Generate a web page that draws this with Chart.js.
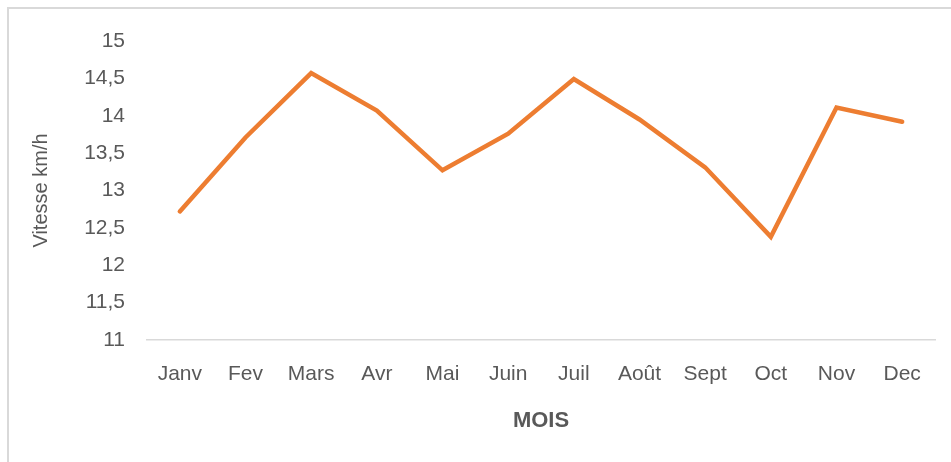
<!DOCTYPE html>
<html>
<head>
<meta charset="utf-8">
<script src="https://cdn.jsdelivr.net/npm/chart.js@4/dist/chart.umd.min.js"></script>
<style>
  html, body { margin: 0; padding: 0; background: #ffffff; }
  #wrap { position: relative; width: 951px; height: 462px; overflow: hidden; background: #ffffff; }
  #frame { position: absolute; left: 7px; top: 7px; width: 960px; height: 470px;
           border-top: 2px solid #d9d9d9; border-left: 2px solid #d9d9d9; box-sizing: border-box; }
  canvas { position: absolute; left: 0; top: 0; }
</style>
</head>
<body>
<div id="wrap">
  <div id="frame"></div>
  <canvas id="c" width="951" height="462"></canvas>
</div>
<script>
const categories = ['Janv', 'Fev', 'Mars', 'Avr', 'Mai', 'Juin', 'Juil', 'Août', 'Sept', 'Oct', 'Nov', 'Dec'];
const vitesse = [12.72, 13.71, 14.57, 14.07, 13.27, 13.76, 14.49, 13.95, 13.31, 12.38, 14.11, 13.92];
const yTickValues = [11, 11.5, 12, 12.5, 13, 13.5, 14, 14.5, 15];
const yTickLabels = ['11', '11,5', '12', '12,5', '13', '13,5', '14', '14,5', '15'];
const xTitle = 'MOIS';
const yTitle = 'Vitesse km/h';

const FONT = "'Liberation Sans', Arial, sans-serif";
const TXT = '#595959';

new Chart(document.getElementById('c'), {
  type: 'line',
  data: {
    labels: categories,
    datasets: [{
      data: vitesse,
      borderColor: '#ED7D31',
      backgroundColor: '#ED7D31',
      borderWidth: 4.5,
      borderCapStyle: 'round',
      borderJoinStyle: 'miter',
      pointRadius: 0,
      tension: 0,
      fill: false
    }]
  },
  options: {
    responsive: false,
    animation: false,
    devicePixelRatio: 1,
    layout: { padding: { left: 0, right: 16, top: 41, bottom: 0 } },
    plugins: { legend: { display: false }, tooltip: { enabled: false } },
    scales: {
      x: {
        offset: true,
        grid: { display: false, drawTicks: false },
        border: { display: true, color: '#d9d9d9', width: 1.5 },
        ticks: { color: TXT, font: { family: FONT, size: 21 }, padding: 22, maxRotation: 0, autoSkip: false },
        title: { display: true, text: xTitle, color: TXT, font: { family: FONT, size: 22, weight: 'bold' }, padding: { top: 0, bottom: 28 } },
        afterFit: (s) => { s.height = 122; }
      },
      y: {
        min: 11, max: 15,
        grid: { display: false, drawTicks: false },
        border: { display: false },
        afterBuildTicks: (s) => { s.ticks = yTickValues.map(v => ({ value: v })); },
        ticks: {
          color: TXT, font: { family: FONT, size: 21 }, padding: 22,
          callback: (v) => { const i = yTickValues.indexOf(v); return i >= 0 ? yTickLabels[i] : ''; }
        },
        title: { display: true, text: yTitle, color: TXT, font: { family: FONT, size: 20 }, padding: { top: 29, bottom: 0 } },
        afterFit: (s) => { s.width = 147; }
      }
    }
  }
});
</script>
</body>
</html>
